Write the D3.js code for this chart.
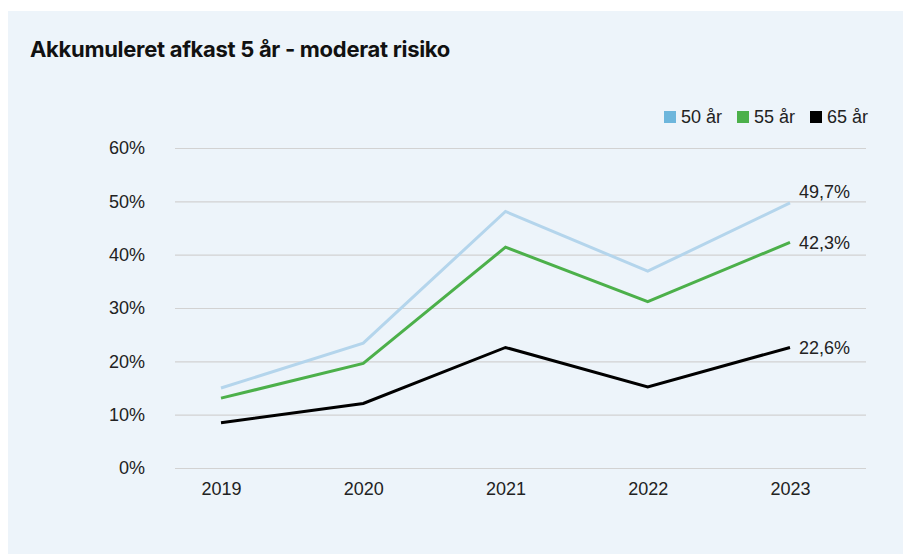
<!DOCTYPE html>
<html>
<head>
<meta charset="utf-8">
<script src="https://cdn.jsdelivr.net/npm/d3@7"></script>
<style>
  body { margin: 0; background: #fff; }
  svg { display: block; }
</style>
</head>
<body>
<svg id="chart" width="903" height="554"></svg>
<script>
// data
const years = ["2019", "2020", "2021", "2022", "2023"];
const seriesNames = ["50 år", "55 år", "65 år"];
const age50 = [15.0, 23.4, 48.1, 36.9, 49.7];
const age55 = [13.1, 19.6, 41.4, 31.2, 42.3];
const age65 = [8.5, 12.1, 22.6, 15.2, 22.6];
const endLabels = ["49,7%", "42,3%", "22,6%"];
const yTicks = [0, 10, 20, 30, 40, 50, 60];

const lineColors = ["#b4d5ec", "#4cb04a", "#000000"];
const legendColors = ["#6db6dc", "#4cb04a", "#000000"];

const series = [age50, age55, age65];

const svg = d3.select("#chart");
const font = "'Liberation Sans', Arial, sans-serif";

// panel background
svg.append("rect")
    .attr("x", 8).attr("y", 11)
    .attr("width", 895).attr("height", 543)
    .attr("fill", "#edf4fa");

svg.append("text")
    .attr("x", 30).attr("y", 57)
    .attr("font-family", "Inter, 'Liberation Sans', sans-serif")
    .attr("font-weight", 700)
    .attr("font-size", 22)
    .attr("letter-spacing", -0.3)
    .attr("fill", "#111")
    .text("Akkumuleret afkast 5 år - moderat risiko");

const x = d3.scalePoint()
    .domain(years)
    .range([221, 790]);

const y = d3.scaleLinear()
    .domain([0, 60])
    .range([468, 148]);

// gridlines + y labels
const yAxis = svg.append("g")
    .attr("transform", "translate(175,0)")
    .call(d3.axisLeft(y).tickValues(yTicks).tickSize(-691).tickPadding(30).tickFormat(d => d + "%"));
yAxis.select(".domain").remove();
yAxis.selectAll(".tick line").attr("stroke", "#d2d2d2").attr("stroke-width", 1.2);
yAxis.selectAll(".tick text")
    .attr("font-family", font).attr("font-size", 18).attr("fill", "#222");

// x labels
const xAxis = svg.append("g")
    .attr("transform", "translate(0,468)")
    .call(d3.axisBottom(x).tickSize(0).tickPadding(14));
xAxis.select(".domain").remove();
xAxis.selectAll(".tick text")
    .attr("font-family", font).attr("font-size", 18).attr("fill", "#222");

const line = d3.line()
    .x((d, i) => x(years[i]))
    .y(d => y(d));

svg.selectAll(".series")
    .data(series)
    .enter().append("path")
    .attr("class", "series")
    .attr("fill", "none")
    .attr("stroke", (d, i) => lineColors[i])
    .attr("stroke-width", 3)
    .attr("stroke-linejoin", "miter")
    .attr("d", line);

// end labels (first one sits above its line, the others centred on it)
svg.selectAll(".endlabel")
    .data(series)
    .enter().append("text")
    .attr("class", "endlabel")
    .attr("x", x(years[years.length - 1]) + 9)
    .attr("y", (d, i) => y(d[d.length - 1]) + (i === 0 ? -5 : 7))
    .attr("font-family", font).attr("font-size", 18).attr("fill", "#222")
    .text((d, i) => endLabels[i]);

// legend
const legendX = [664, 737, 810];
const legend = svg.selectAll(".legend")
    .data(seriesNames)
    .enter().append("g")
    .attr("class", "legend")
    .attr("transform", (d, i) => `translate(${legendX[i]},111)`);
legend.append("rect")
    .attr("width", 12).attr("height", 12)
    .attr("fill", (d, i) => legendColors[i]);
legend.append("text")
    .attr("x", 17).attr("y", 12)
    .attr("font-family", font).attr("font-size", 18).attr("fill", "#222")
    .text(d => d);
</script>
</body>
</html>
